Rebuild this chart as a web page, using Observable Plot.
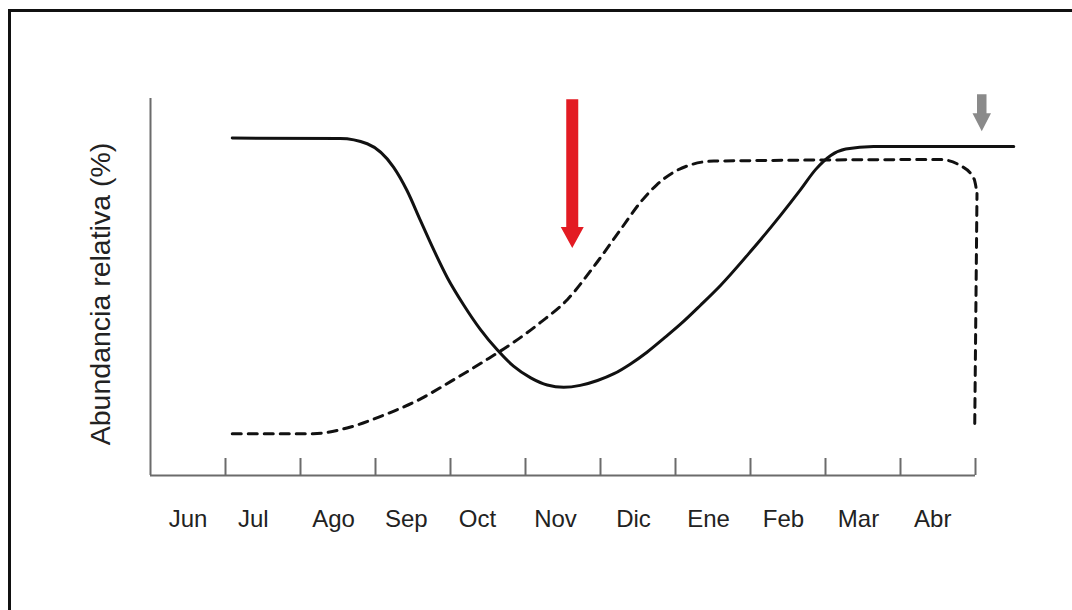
<!DOCTYPE html>
<html><head><meta charset="utf-8">
<script src="https://cdn.jsdelivr.net/npm/d3@7"></script>
<script src="https://cdn.jsdelivr.net/npm/@observablehq/plot@0.6"></script>
<style>
body{margin:0;background:#fff;}
#wrap{position:relative;width:1072px;height:610px;overflow:hidden;background:#fff;}
#border{position:absolute;left:8px;top:9px;width:1200px;height:800px;border:3px solid #111;box-sizing:border-box;}
#chart{position:absolute;left:0;top:0;}
</style></head><body>
<div id="wrap"><div id="border"></div><div id="chart"></div></div>
<script>
// Month labels (placed in the middle of each month interval) and tick marks
const monthLabels = ["Jun","Jul","Ago","Sep","Oct","Nov","Dic","Ene","Feb","Mar","Abr"];
const monthLabelPos = [0.5,1.37,2.44,3.41,4.36,5.4,6.44,7.44,8.44,9.44,10.43];
const monthTicks = [1,2,3,4,5,6,7,8,9,10,11];

// Solid series (relative abundance, %)
const solidX = [1.09,2.53,2.89,3.24,3.42,3.60,3.78,3.96,4.18,4.40,4.62,4.84,5.07,5.29,5.51,5.73,5.96,6.18,6.40,6.62,6.84,7.07,7.33,7.60,8.00,8.40,8.67,8.87,9.07,9.27,9.64,11.51];
const solidY = [89.5,89.4,88.0,81.8,75.6,67.6,59.7,52.4,45.1,38.7,33.4,29.0,25.9,24.0,23.4,23.9,25.2,27.0,29.6,32.7,36.3,40.2,45.1,50.4,59.4,69.0,75.9,81.2,84.9,86.6,87.3,87.3];

// Dashed series (relative abundance, %): rising part and final drop
const dashedX = [1.09,2.17,2.62,3.07,3.56,4.00,4.44,4.84,5.20,5.56,5.91,6.27,6.53,6.75,6.98,7.20,7.51,10.53,10.80,10.98,11.02];
const dashedY = [11.1,11.1,12.6,15.7,19.9,24.9,30.2,35.3,40.6,46.7,55.4,65.3,72.4,77.1,80.5,82.4,83.4,83.8,82.2,78.7,74.8];
const dashedDropX = [11.02,10.99];
const dashedDropY = [74.8,13.7];

// Arrows: position (month units) and vertical extent (%)
const arrowNames = ["rojo","gris"];
const arrowX = [5.63, 11.09];
const arrowTop = [99.7, 101.0];
const arrowTip = [60.2, 91.2];

// styles
const arrowColors = ["#e31b23","#8a8a8a"];
const arrowStyle = [{shaft:12, headW:23, headL:21},{shaft:9.5, headW:18.5, headL:18}];
const axisColor = "#6b6b6b";
const tickLenPx = 17;

const solid = solidX.map((x,i)=>({x, y: solidY[i]}));
const dashed = dashedX.map((x,i)=>({x, y: dashedY[i]}));
const dashedDrop = dashedDropX.map((x,i)=>({x, y: dashedDropY[i]}));
const plotH = 610 - 98 - 135;
const tickLen = tickLenPx / plotH * 100;

function arrowsMark(index, scales, values, dimensions, context) {
  const g = d3.create("svg:g");
  arrowX.forEach((x, i) => {
    const cx = scales.x(x), y0 = scales.y(arrowTop[i]), y1 = scales.y(arrowTip[i]);
    const s = arrowStyle[i], hw = s.shaft/2, hh = s.headW/2, hl = s.headL;
    const p = `M${cx-hw},${y0}L${cx+hw},${y0}L${cx+hw},${y1-hl}L${cx+hh},${y1-hl}L${cx},${y1}L${cx-hh},${y1-hl}L${cx-hw},${y1-hl}Z`;
    g.append("path").attr("d", p).attr("fill", arrowColors[i]).attr("aria-label", arrowNames[i]);
  });
  return g.node();
}

const chart = Plot.plot({
  width: 1072, height: 610,
  marginLeft: 150, marginRight: 22, marginTop: 98, marginBottom: 135,
  x: {domain: [0, 12], axis: null},
  y: {domain: [0, 100], axis: null},
  style: {background: "transparent", fontFamily: "'Liberation Sans', Arial, sans-serif"},
  marks: [
    Plot.ruleX([0], {y1: 0, y2: 100, stroke: axisColor, strokeWidth: 2}),
    Plot.ruleY([0], {x1: 0, x2: 11, stroke: axisColor, strokeWidth: 2}),
    Plot.ruleX(monthTicks, {x: d => d, y1: 0, y2: tickLen, stroke: axisColor, strokeWidth: 2}),
    Plot.text(monthLabels, {x: (d, i) => monthLabelPos[i], frameAnchor: "bottom", dy: 51, text: d => d, fontSize: 24, fill: "#222"}),
    Plot.text(["Abundancia relativa (%)"], {frameAnchor: "left", textAnchor: "middle", dx: -50, dy: 7, rotate: -90, text: d => d, fontSize: 28.5, fill: "#222"}),
    Plot.line(dashed, {x: "x", y: "y", curve: "monotone-x", stroke: "#111", strokeWidth: 3, strokeDasharray: "9,7"}),
    Plot.line(dashedDrop, {x: "x", y: "y", stroke: "#111", strokeWidth: 3, strokeDasharray: "9,7", strokeDashoffset: 3}),
    Plot.line(solid, {x: "x", y: "y", curve: "monotone-x", stroke: "#111", strokeWidth: 3}),
    arrowsMark
  ]
});
document.getElementById("chart").appendChild(chart);
</script>
</body></html>
